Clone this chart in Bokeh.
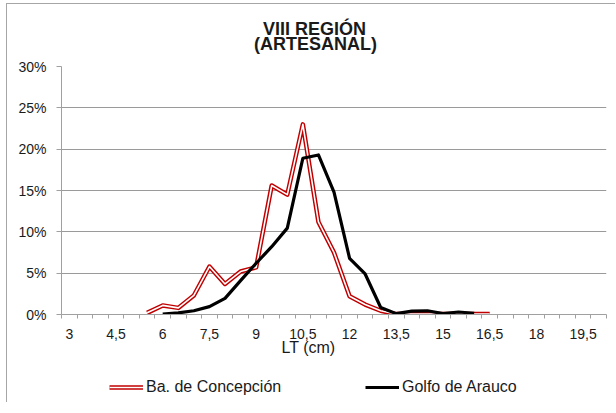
import numpy as np
from bokeh.plotting import figure
from bokeh.layouts import column
from bokeh.models import (ColumnDataSource, FixedTicker, NumeralTickFormatter, Legend,
                          LegendItem, Title, Range1d, Label)
from bokeh.embed import file_html
from bokeh.resources import INLINE

# ---- data ----
categories = [3, 3.5, 4, 4.5, 5, 5.5, 6, 6.5, 7, 7.5, 8, 8.5, 9, 9.5, 10, 10.5, 11, 11.5,
              12, 12.5, 13, 13.5, 14, 14.5, 15, 15.5, 16, 16.5, 17, 17.5, 18, 18.5, 19, 19.5, 20]
tick_labels = ["3", "4,5", "6", "7,5", "9", "10,5", "12", "13,5", "15", "16,5", "18", "19,5"]
concepcion = [None, None, None, None, None,
              0.2, 1.1, 0.8, 2.3, 5.8, 3.7, 5.2, 5.7, 15.6, 14.5, 23.0, 11.2, 7.5,
              2.2, 1.2, 0.45, 0.05, 0.05, 0.05, 0.05, 0.05, 0.05, 0.05,
              None, None, None, None, None, None, None]
arauco = [None, None, None, None, None, None,
          0.05, 0.2, 0.45, 0.95, 1.95, 4.1, 6.2, 8.2, 10.45, 18.9, 19.3, 14.8,
          6.8, 4.9, 0.85, 0.1, 0.4, 0.45, 0.1, 0.3, 0.15,
          None, None, None, None, None, None, None, None]
y_ticks = [0, 0.05, 0.10, 0.15, 0.20, 0.25, 0.30]
series_names = ["Ba. de Concepción", "Golfo de Arauco"]
title_lines = ["VIII REGIÓN", "(ARTESANAL)"]
x_title = "LT (cm)"

FONT = "Liberation Sans"
TXT = "#1a1a1a"
RED = "#c00000"
W = 608
ML, MR = 54, 9          # main plot side borders
X0 = 7                  # page x of the canvas left edge

def strip(h, top):
    # frame fills the whole canvas; ranges are in page pixels
    f = figure(width=W, height=h, output_backend="svg", toolbar_location=None,
               x_axis_type=None, y_axis_type=None, min_border=0, frame_align=False,
               x_range=Range1d(X0, X0 + W), y_range=Range1d(top + h, top))
    f.outline_line_color = None
    f.xgrid.visible = False
    f.ygrid.visible = False
    return f

# ---- title strip (page y 4..56) ----
tp = strip(52, 4)
tp.add_layout(Label(x=314, y=28, text=title_lines[0], text_align="center",
                    text_baseline="alphabetic", text_font=FONT, text_font_style="bold",
                    text_font_size="18px", text_color=TXT))
tp.add_layout(Label(x=315, y=43.5, text=title_lines[1], text_align="center",
                    text_baseline="alphabetic", text_font=FONT, text_font_style="bold",
                    text_font_size="18px", text_color=TXT))

# ---- main chart ----
idx = list(range(len(categories)))
src = ColumnDataSource(dict(
    x=idx,
    conc=np.array([np.nan if v is None else v / 100 for v in concepcion], dtype=float),
    arau=np.array([np.nan if v is None else v / 100 for v in arauco], dtype=float),
))

p = figure(width=W, height=316, output_backend="svg", toolbar_location=None,
           x_range=Range1d(-0.5, len(categories) - 0.5), y_range=Range1d(0, 0.30),
           min_border_left=ML, min_border_right=MR, min_border_top=10, min_border_bottom=58,
           frame_align=False)
p.outline_line_color = None
p.background_fill_color = "white"
p.border_fill_color = "white"

p.xgrid.visible = False
p.ygrid.grid_line_color = "#9a9a9a"
p.ygrid.grid_line_width = 1

p.yaxis.ticker = FixedTicker(ticks=y_ticks)
p.yaxis.formatter = NumeralTickFormatter(format="0%")
p.yaxis.axis_line_color = "#a0a0a0"
p.yaxis.major_tick_line_color = "#a0a0a0"
p.yaxis.major_tick_out = 5
p.yaxis.major_tick_in = 0
p.yaxis.minor_tick_line_color = None
p.yaxis.major_label_standoff = 10
p.yaxis.major_label_text_font = FONT
p.yaxis.major_label_text_font_size = "14px"
p.yaxis.major_label_text_color = TXT

major = list(range(0, len(categories), 3))
p.xaxis.ticker = FixedTicker(ticks=major, minor_ticks=[i - 0.5 for i in range(len(categories) + 1)])
p.xaxis.major_label_overrides = {m: t for m, t in zip(major, tick_labels)}
p.xaxis.axis_line_color = "#a0a0a0"
p.xaxis.major_tick_line_color = None
p.xaxis.major_tick_out = 0
p.xaxis.major_tick_in = 0
p.xaxis.minor_tick_line_color = "#a0a0a0"
p.xaxis.minor_tick_out = 4
p.xaxis.minor_tick_in = 0
p.xaxis.major_label_standoff = 10
p.xaxis.major_label_text_font = FONT
p.xaxis.major_label_text_font_size = "14px"
p.xaxis.major_label_text_color = TXT

p.line("x", "conc", source=src, line_color=RED, line_width=4.5, line_join="round")
p.line("x", "conc", source=src, line_color="white", line_width=1.6, line_join="round")
p.line("x", "arau", source=src, line_color="black", line_width=3.2, line_join="round")

p.add_layout(Title(text=x_title, align="left", offset=220, standoff=-6, vertical_align="top",
                   text_font=FONT, text_font_style="normal", text_font_size="16px",
                   text_color=TXT), "below")

# ---- legend strip (page y 372..402) ----
lg = strip(30, 372)
d1 = lg.line(x=[np.nan], y=[np.nan], line_color=RED, line_width=4.5)
d2 = lg.line(x=[np.nan], y=[np.nan], line_color="white", line_width=1.6)
d3 = lg.line(x=[np.nan], y=[np.nan], line_color="black", line_width=3.2)
legend = Legend(items=[LegendItem(label=series_names[0], renderers=[d1, d2]),
                       LegendItem(label=series_names[1], renderers=[d3])],
                location=(102, 5), orientation="horizontal",
                padding=0, margin=0, border_line_color=None, background_fill_alpha=0,
                glyph_width=34, glyph_height=20, label_height=20, label_width=140,
                label_standoff=3, spacing=79,
                label_text_font=FONT, label_text_font_size="16px", label_text_color=TXT)
lg.add_layout(legend, "center")

layout = column(tp, p, lg, spacing=0,
                styles={"margin-left": "6px", "margin-top": "3px",
                        "border-left": "1px solid #a6a6a6", "border-top": "1px solid #a6a6a6"})

open("out.html", "w").write(file_html(layout, INLINE))
